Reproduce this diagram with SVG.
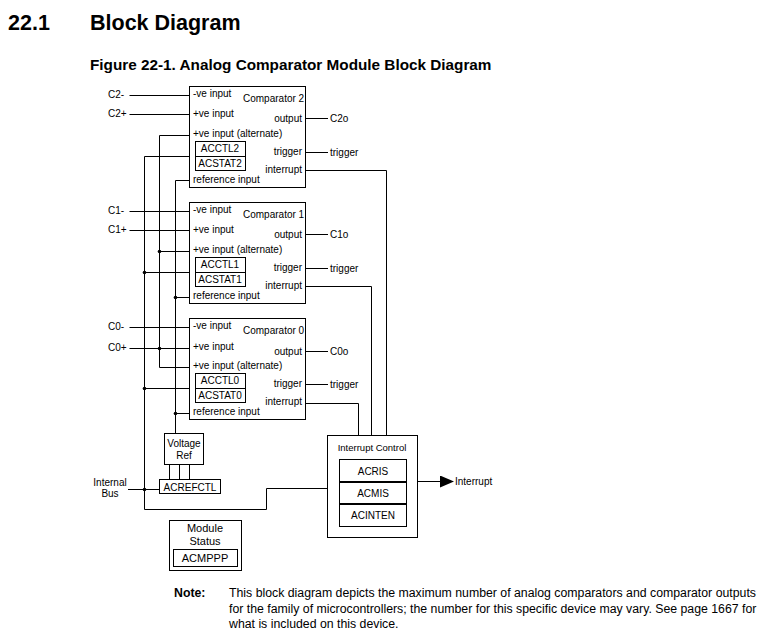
<svg xmlns="http://www.w3.org/2000/svg" width="766" height="640" viewBox="0 0 766 640">
<style>
text{font-family:"Liberation Sans",Arial,sans-serif;fill:#000}
.t{font-size:10px}
.r{text-anchor:end}
.m{text-anchor:middle}
.box{fill:#fff;stroke:#000;stroke-width:1}
.ln{fill:none;stroke:#000;stroke-width:1}
.dot{fill:#000}
</style>
<defs>
<marker id="arr" markerWidth="14" markerHeight="12" refX="13" refY="6" orient="auto" markerUnits="userSpaceOnUse">
<path d="M0,0 L14,6 L0,12 Z" fill="#000"/>
</marker>
</defs>
<rect width="766" height="640" fill="#fff"/>
<text x="8" y="30" style="font-size:21.5px;font-weight:bold">22.1</text>
<text x="90" y="30" style="font-size:21.5px;font-weight:bold">Block Diagram</text>
<text x="90" y="70" style="font-size:15.3px;font-weight:bold">Figure 22-1. Analog Comparator Module Block Diagram</text>

<g id="connectors">
<!-- comparator 2 -->
<path class="ln" d="M129.5,95.5H189 M129.5,114.5H189 M305,118.5H328 M305,152.5H328"/>
<path class="ln" d="M159.5,367.5V135.5H189 M144.5,509.5V156.5H189 M175.5,433V180.5H189"/>
<path class="ln" d="M305,170.5H386.5V435"/>
<!-- comparator 1 -->
<path class="ln" d="M129.5,211.5H189 M129.5,230.5H189 M305,234.5H328 M305,268.5H328"/>
<path class="ln" d="M159.5,251.5H189 M144.5,272.5H189 M175.5,297.5H189"/>
<path class="ln" d="M305,286.5H371.5V435"/>
<!-- comparator 0 -->
<path class="ln" d="M129.5,327.5H189 M129.5,348.5H189 M305,351.5H328 M305,384.5H328"/>
<path class="ln" d="M159.5,367.5H189 M144.5,388.5H189 M175.5,413.5H189"/>
<path class="ln" d="M305,403.5H358.5V435"/>
<!-- voltage ref / bus -->
<path class="ln" d="M169.5,464V479 M179.5,464V479 M189.5,464V479"/>
<path class="ln" d="M128,489.5H160"/>
<path class="ln" d="M144.5,509.5H266.5V488.5H327"/>
<path class="ln" d="M417,481.5H453" marker-end="url(#arr)"/>
<circle class="dot" cx="159.5" cy="251.5" r="1.8"/>
<circle class="dot" cx="159.5" cy="348.5" r="1.8"/>
<circle class="dot" cx="144.5" cy="272.5" r="1.8"/>
<circle class="dot" cx="144.5" cy="388.5" r="1.8"/>
<circle class="dot" cx="175.5" cy="297.5" r="1.8"/>
<circle class="dot" cx="175.5" cy="413.5" r="1.8"/>
<circle class="dot" cx="144.5" cy="489.5" r="1.8"/>
</g>

<g id="labels" class="t">
<text x="108" y="98">C2-</text>
<text x="108" y="117">C2+</text>
<text x="330" y="122">C2o</text>
<text x="330" y="156">trigger</text>
<text x="108" y="214">C1-</text>
<text x="108" y="233">C1+</text>
<text x="330" y="238">C1o</text>
<text x="330" y="272">trigger</text>
<text x="108" y="330">C0-</text>
<text x="108" y="351">C0+</text>
<text x="330" y="355">C0o</text>
<text x="330" y="388">trigger</text>
<text x="110" y="486" class="m">Internal</text>
<text x="110" y="497" class="m">Bus</text>
<text x="455" y="485">Interrupt</text>
</g>

<g id="comp2" class="t">
<rect class="box" x="189.5" y="86.5" width="116" height="101"/>
<text x="193" y="97">-ve input</text>
<text x="243" y="102">Comparator 2</text>
<text x="193" y="117">+ve input</text>
<text x="302" y="122" class="r">output</text>
<text x="193" y="137">+ve input (alternate)</text>
<rect class="box" x="195.5" y="141.5" width="50" height="29"/>
<line class="ln" x1="195.5" y1="156.5" x2="245.5" y2="156.5"/>
<text x="220" y="152" class="m">ACCTL2</text>
<text x="220" y="167" class="m">ACSTAT2</text>
<text x="302" y="155" class="r">trigger</text>
<text x="302" y="173" class="r">interrupt</text>
<text x="193" y="183">reference input</text>
</g>

<g id="comp1" class="t">
<rect class="box" x="189.5" y="202.5" width="116" height="101"/>
<text x="193" y="213">-ve input</text>
<text x="243" y="218">Comparator 1</text>
<text x="193" y="233">+ve input</text>
<text x="302" y="238" class="r">output</text>
<text x="193" y="253">+ve input (alternate)</text>
<rect class="box" x="195.5" y="257.5" width="50" height="29"/>
<line class="ln" x1="195.5" y1="272.5" x2="245.5" y2="272.5"/>
<text x="220" y="268" class="m">ACCTL1</text>
<text x="220" y="283" class="m">ACSTAT1</text>
<text x="302" y="271" class="r">trigger</text>
<text x="302" y="289" class="r">interrupt</text>
<text x="193" y="299">reference input</text>
</g>

<g id="comp0" class="t">
<rect class="box" x="189.5" y="318.5" width="116" height="101"/>
<text x="193" y="329">-ve input</text>
<text x="243" y="334">Comparator 0</text>
<text x="193" y="350">+ve input</text>
<text x="302" y="355" class="r">output</text>
<text x="193" y="369">+ve input (alternate)</text>
<rect class="box" x="195.5" y="373.5" width="50" height="29"/>
<line class="ln" x1="195.5" y1="388.5" x2="245.5" y2="388.5"/>
<text x="220" y="384" class="m">ACCTL0</text>
<text x="220" y="399" class="m">ACSTAT0</text>
<text x="302" y="387" class="r">trigger</text>
<text x="302" y="405" class="r">interrupt</text>
<text x="193" y="415">reference input</text>
</g>

<g id="vref" class="t">
<rect class="box" x="164.5" y="433.5" width="39" height="31"/>
<text x="184" y="447" class="m">Voltage</text>
<text x="184" y="459" class="m">Ref</text>
</g>

<g id="acrefctl" class="t">
<rect class="box" x="159.5" y="479.5" width="61" height="14"/>
<text x="190" y="491" class="m">ACREFCTL</text>
</g>

<g id="modstatus">
<rect class="box" x="169.5" y="520.5" width="72" height="50"/>
<text x="205" y="532" class="m" style="font-size:11px">Module</text>
<text x="205" y="545" class="m" style="font-size:11px">Status</text>
<rect class="box" x="173.5" y="549.5" width="64" height="17"/>
<text x="205" y="562" class="m" style="font-size:11px">ACMPPP</text>
</g>

<g id="intctl" class="t">
<rect class="box" x="327.5" y="435.5" width="90" height="102"/>
<text x="372" y="451" class="m" style="font-size:9.5px">Interrupt Control</text>
<rect class="box" x="339.5" y="459.5" width="67" height="67"/>
<line x1="339.5" y1="482" x2="406.5" y2="482" stroke="#000" stroke-width="2"/>
<line x1="339.5" y1="504" x2="406.5" y2="504" stroke="#000" stroke-width="2"/>
<text x="373" y="475" class="m">ACRIS</text>
<text x="373" y="497" class="m">ACMIS</text>
<text x="373" y="519" class="m">ACINTEN</text>
</g>

<g id="note" style="font-size:12.3px">
<text x="174" y="597" style="font-weight:bold">Note:</text>
<text x="229" y="597">This block diagram depicts the maximum number of analog comparators and comparator outputs</text>
<text x="229" y="613">for the family of microcontrollers; the number for this specific device may vary. See page 1667 for</text>
<text x="229" y="628">what is included on this device.</text>
</g>
</svg>
